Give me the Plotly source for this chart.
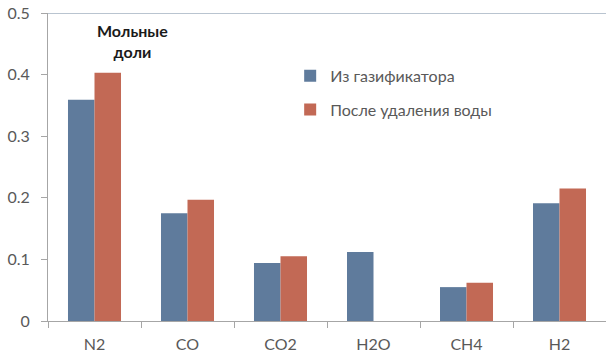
import plotly.graph_objects as go

# Gas components and their mole fractions
components = ["N2", "CO", "CO2", "H2O", "CH4", "H2"]
from_gasifier = [0.359, 0.175, 0.094, 0.112, 0.055, 0.191]
after_water_removal = [0.403, 0.197, 0.105, None, 0.062, 0.215]

series_names = ["Из газификатора", "После удаления воды"]
colors = ["#5F7B9C", "#C26955"]
y_ticks = [0, 0.1, 0.2, 0.3, 0.4, 0.5]
y_tick_text = ["0", "0.1", "0.2", "0.3", "0.4", "0.5"]

font_family = "Lato, 'Open Sans', sans-serif"
axis_color = "#A6A6A6"
text_color = "#595959"

fig = go.Figure()
for name, vals, col, grp in zip(series_names, [from_gasifier, after_water_removal], colors, ["a", "b"]):
    fig.add_trace(go.Bar(
        x=components, y=vals, name=name, legendgroup=grp,
        marker=dict(color=col, line=dict(width=0)),
    ))

fig.update_layout(
    width=606, height=356,
    margin=dict(l=48, r=0, t=13, b=35),
    paper_bgcolor="white", plot_bgcolor="white",
    barmode="group", bargap=0.43, bargroupgap=0,
    font=dict(family=font_family, size=16, color=text_color),
    showlegend=True,
    legend=dict(
        x=0.434, y=0.851, xanchor="left", yanchor="top",
        font=dict(size=16, color=text_color),
        bgcolor="rgba(0,0,0,0)", tracegroupgap=10,
        itemwidth=30,
    ),
    xaxis=dict(
        showline=True, linecolor=axis_color, linewidth=1,
        ticks="outside", tickson="boundaries", ticklen=6, tickcolor=axis_color,
        showgrid=False, tickfont=dict(size=16, color=text_color),
        ticklabelstandoff=9,
    ),
    yaxis=dict(
        range=[0, 0.5], tickvals=y_ticks, ticktext=y_tick_text,
        showline=True, linecolor=axis_color, linewidth=1,
        ticks="outside", ticklen=6, tickcolor=axis_color,
        showgrid=False, zeroline=False,
        tickfont=dict(size=16, color=text_color),
        ticklabelstandoff=8,
    ),
)

# Upper border of the plot area
fig.add_shape(type="line", xref="paper", yref="y", x0=0, x1=1, y0=0.5, y1=0.5,
              line=dict(color="#B9C4D0", width=2))

fig.add_annotation(
    text="<b>Мольные<br>доли</b>", xref="paper", yref="y",
    x=0.085, y=0.455, showarrow=False, align="center",
    font=dict(size=16, color="#1A1A1A", family=font_family),
)

fig.write_html("out.html")
